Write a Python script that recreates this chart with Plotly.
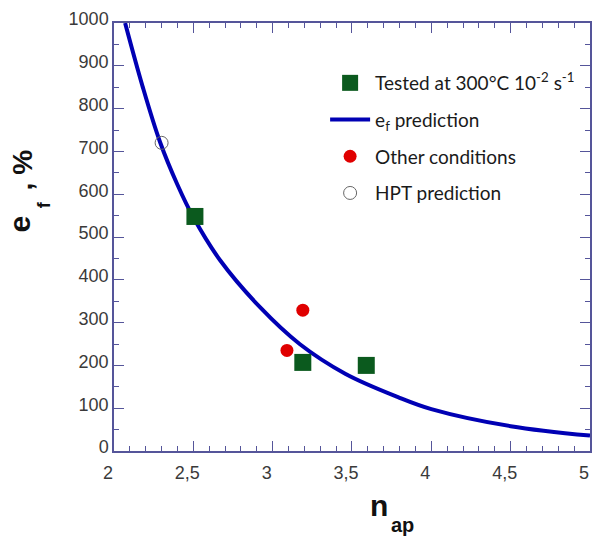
import plotly.graph_objects as go

# Data
curve_x = [2.07, 2.18, 2.29, 2.40, 2.50, 2.67, 2.92, 3.17, 3.46, 3.79, 4.0, 4.5, 5.0]
curve_y = [1000, 852, 722, 622, 546, 445, 336, 250, 180, 126, 98, 58, 36]

tested_x = [2.51, 3.19, 3.59]
tested_y = [548, 207, 200]

other_x = [3.09, 3.19]
other_y = [235, 329]

hpt_x = [2.30]
hpt_y = [720]

x_ticks = [2, 2.5, 3, 3.5, 4, 4.5, 5]

AXC = "#55559a"
TICKFONT = dict(family="Liberation Sans, Arial, sans-serif", size=18, color="#3a3a3a")
LEGFONT = dict(family="Lato, Open Sans, sans-serif", size=19, color="#1a1a1a")

fig = go.Figure()

fig.add_trace(go.Scatter(
    x=curve_x, y=curve_y, mode="lines", name="e<sub>f</sub> prediction",
    line=dict(color="#0000b4", width=4, shape="spline", smoothing=1.0),
    legendgroup="b", legendrank=2))

fig.add_trace(go.Scatter(
    x=tested_x, y=tested_y, mode="markers", name="Tested at 300°C 10<sup>-2</sup> s<sup>-1</sup>",
    marker=dict(symbol="square", size=17, color="#0b5a1e"),
    legendgroup="a", legendrank=1))

fig.add_trace(go.Scatter(
    x=other_x, y=other_y, mode="markers", name="Other conditions",
    marker=dict(symbol="circle", size=13, color="#e00000"),
    legendgroup="c", legendrank=3))

fig.add_trace(go.Scatter(
    x=hpt_x, y=hpt_y, mode="markers", name="HPT prediction",
    marker=dict(symbol="circle-open", size=13, color="#666666", line=dict(width=1)),
    legendgroup="d", legendrank=4))

axis_common = dict(
    showline=True, linecolor=AXC, linewidth=1.5, mirror="ticks",
    ticks="inside", ticklen=10, tickwidth=1.2, tickcolor=AXC,
    showgrid=False, zeroline=False, tickfont=TICKFONT,
)

fig.update_xaxes(range=[2, 5.0001], tickvals=x_ticks, ticklabelshift=-6, ticklabelstandoff=5,
                 ticklabeloverflow="allow",
                 minor=dict(ticks="inside", ticklen=5, dtick=0.1, tick0=2, tickcolor=AXC, tickwidth=1),
                 **axis_common)
fig.update_yaxes(range=[0, 1000], dtick=100, ticklabelshift=-4,
                 minor=dict(ticks="inside", ticklen=5, dtick=50, tickcolor=AXC, tickwidth=1),
                 **axis_common)

# Axis titles as annotations
ann_font = "Liberation Sans, Arial, sans-serif"
annotations = [
    dict(text="<b>n</b>", x=380, y=506, font=dict(family=ann_font, size=30, color="#111")),
    dict(text="<b>ap</b>", x=404, y=525, font=dict(family=ann_font, size=20, color="#111")),
    dict(text="<b>e</b>", x=19, y=224, font=dict(family=ann_font, size=30, color="#111"), textangle=-90),
    dict(text="<b>f</b>", x=44, y=205, font=dict(family=ann_font, size=18, color="#111"), textangle=-90),
    dict(text="<b>, %</b>", x=22, y=170, font=dict(family=ann_font, size=28, color="#111"), textangle=-90),
]
L, R, T, B = 114, 592, 23, 451
anns = []
for a in annotations:
    px, py = a.pop("x"), a.pop("y")
    anns.append(dict(xref="paper", yref="paper",
                     x=(px - L) / (R - L), y=(B - py) / (B - T),
                     xanchor="center", yanchor="middle", showarrow=False, **a))

fig.update_layout(
    width=594, height=538,
    margin=dict(l=L, r=594 - R, t=T, b=538 - B),
    paper_bgcolor="white", plot_bgcolor="white",
    separators=",.",
    showlegend=True,
    legend=dict(x=(326 - L) / (R - L), y=(B - 64) / (B - T), xanchor="left", yanchor="top",
                bgcolor="rgba(0,0,0,0)", font=LEGFONT, traceorder="grouped",
                tracegroupgap=9, itemwidth=40),
    annotations=anns,
)

fig.write_html("out.html")
